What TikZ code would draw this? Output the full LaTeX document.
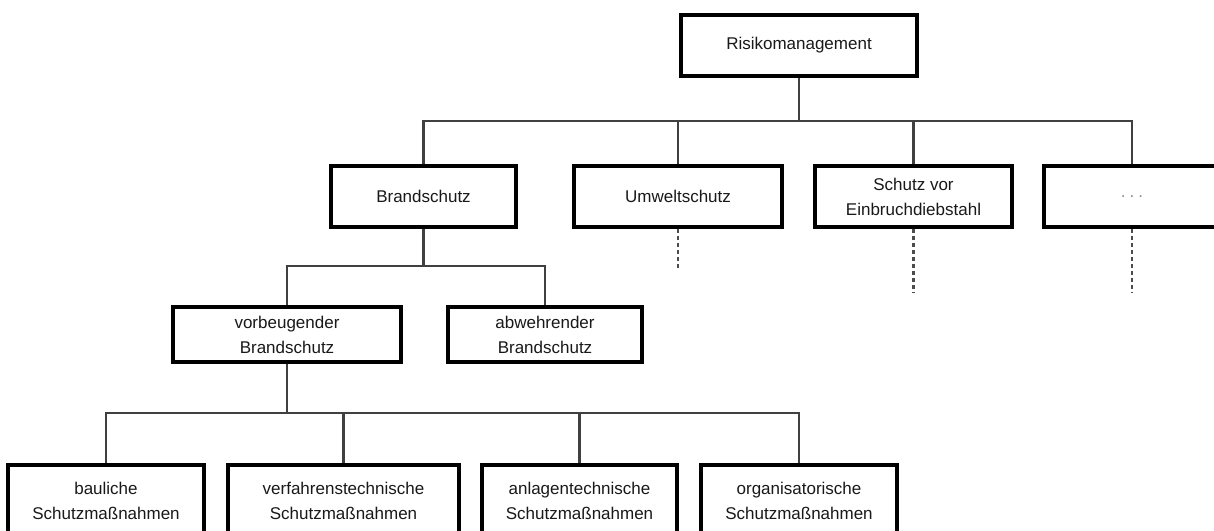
\documentclass[tikz,border=0pt]{standalone}
\usepackage{fontspec}
\setmainfont{Liberation Sans}
\begin{document}
\begin{tikzpicture}[x=1pt,y=-1pt,
  box/.style={draw=black, line width=3.8pt, fill=white, inner sep=0pt, align=center,
              text=black!90, font=\fontsize{17}{25}\selectfont},
  conn/.style={draw=black!75, line width=2.2pt},
  dashconn/.style={draw=black!70, line width=2.4pt, dash pattern=on 4pt off 3pt}]
\useasboundingbox (0,0) rectangle (1214,530);
\clip (0,0) rectangle (1214,530);
% level 1
\node[box, minimum width=236, minimum height=61] (R) at (799,45.5) {Risikomanagement};
% level 2
\node[box, minimum width=185, minimum height=61] (B) at (423.5,196.5) {Brandschutz};
\node[box, minimum width=208, minimum height=61] (U) at (678,196.5) {Umweltschutz};
\node[box, minimum width=197, minimum height=61] (S) at (913.5,196.5) {Schutz vor\\Einbruchdiebstahl};
\node[box, minimum width=176, minimum height=61] (D) at (1132,196.5) {\textcolor{black!45}{.\hspace{4pt}.\hspace{4pt}.}};
% level 3
\node[box, minimum width=228, minimum height=55] (V) at (287,334.5) {vorbeugender\\Brandschutz};
\node[box, minimum width=194, minimum height=55] (A) at (545,334.5) {abwehrender\\Brandschutz};
% level 4
\node[box, minimum width=196, minimum height=72] (L1) at (106,501) {bauliche\\Schutzmaßnahmen};
\node[box, minimum width=231, minimum height=72] (L2) at (343.5,501) {verfahrenstechnische\\Schutzmaßnahmen};
\node[box, minimum width=195, minimum height=72] (L3) at (579.5,501) {anlagentechnische\\Schutzmaßnahmen};
\node[box, minimum width=196, minimum height=72] (L4) at (799,501) {organisatorische\\Schutzmaßnahmen};
% junctions
\coordinate (j1) at (799,121);
\coordinate (j2) at (423.5,266);
\coordinate (j3) at (287,413);
\coordinate (ue) at (678,268);
\coordinate (se) at (913.5,292);
\coordinate (de) at (1132,292);
% connectors
\draw[conn] (R.south) -- (j1);
\draw[conn] (B.north) |- (j1);
\draw[conn] (D.north) |- (j1);
\draw[conn] (U.north) -- (U.north |- j1);
\draw[conn] (S.north) -- (S.north |- j1);
\draw[conn] (B.south) -- (j2);
\draw[conn] (V.north) |- (j2) -| (A.north);
\draw[conn] (V.south) -- (j3);
\draw[conn] (L1.north) |- (j3) -| (L4.north);
\draw[conn] (L2.north) -- (L2.north |- j3);
\draw[conn] (L3.north) -- (L3.north |- j3);
\draw[dashconn] (U.south) -- (ue);
\draw[dashconn] (S.south) -- (se);
\draw[dashconn] (D.south) -- (de);
\end{tikzpicture}
\end{document}
